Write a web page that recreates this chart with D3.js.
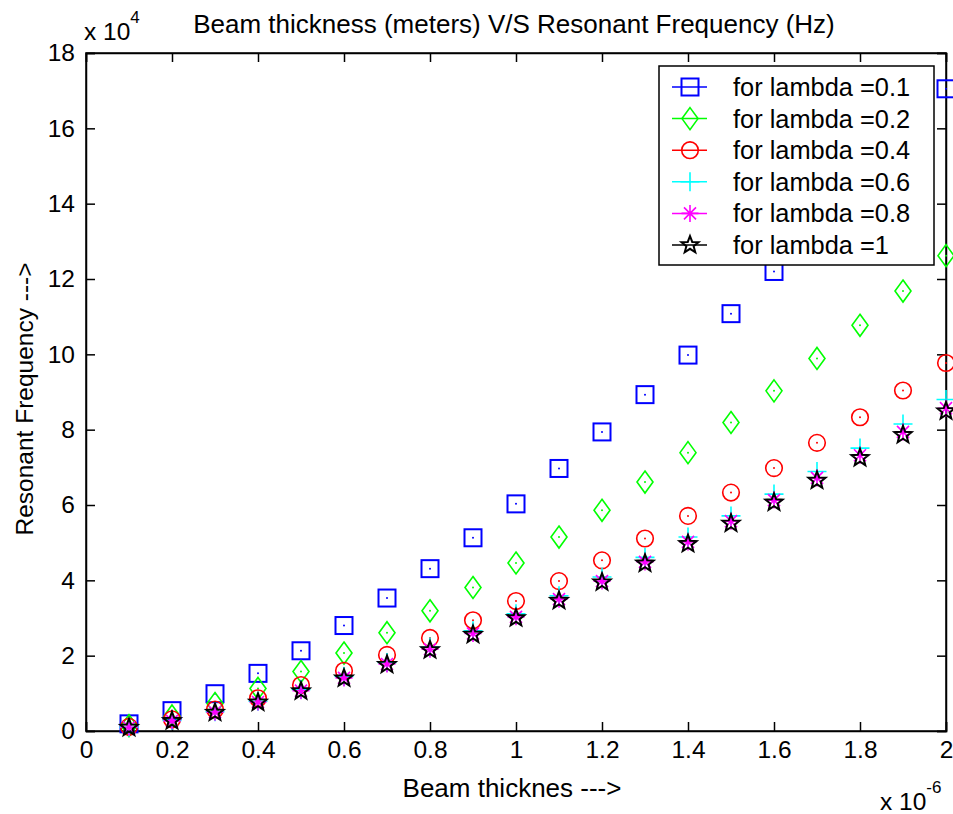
<!DOCTYPE html>
<html>
<head>
<meta charset="utf-8">
<script src="https://cdn.jsdelivr.net/npm/d3@7/dist/d3.min.js"></script>
<style>
  html, body { margin: 0; padding: 0; background: #fff; }
  svg text { font-family: "Liberation Sans", Arial, sans-serif; fill: #000; }
</style>
</head>
<body>
<svg id="chart" width="953" height="814"></svg>
<script>
// Beam thickness (x 10^-6 m)
const thickness = [0.1, 0.2, 0.3, 0.4, 0.5, 0.6, 0.7, 0.8, 0.9, 1.0, 1.1, 1.2, 1.3, 1.4, 1.5, 1.6, 1.7, 1.8, 1.9, 2.0];
// Resonant frequency (x 10^4 Hz)
const lambda01 = [0.19, 0.54, 0.99, 1.53, 2.13, 2.80, 3.53, 4.31, 5.13, 6.03, 6.97, 7.94, 8.93, 9.98, 11.08, 12.20, 13.37, 14.56, 15.79, 17.05];
const lambda02 = [0.14, 0.40, 0.73, 1.13, 1.58, 2.07, 2.61, 3.19, 3.81, 4.46, 5.15, 5.86, 6.61, 7.39, 8.19, 9.03, 9.89, 10.77, 11.68, 12.62];
const lambda04 = [0.11, 0.31, 0.57, 0.87, 1.22, 1.60, 2.02, 2.47, 2.94, 3.45, 3.98, 4.53, 5.11, 5.71, 6.33, 6.98, 7.65, 8.33, 9.04, 9.77];
const lambda06 = [0.10, 0.28, 0.51, 0.79, 1.10, 1.45, 1.82, 2.23, 2.66, 3.11, 3.59, 4.09, 4.61, 5.15, 5.71, 6.29, 6.89, 7.51, 8.15, 8.80];
const lambda08 = [0.10, 0.27, 0.50, 0.77, 1.07, 1.41, 1.78, 2.17, 2.59, 3.03, 3.50, 3.98, 4.49, 5.02, 5.57, 6.13, 6.72, 7.32, 7.94, 8.57];
const lambda10 = [0.09, 0.27, 0.49, 0.76, 1.06, 1.40, 1.76, 2.15, 2.56, 3.00, 3.46, 3.95, 4.45, 4.97, 5.51, 6.07, 6.65, 7.25, 7.86, 8.49];

const seriesNames = ["for lambda =0.1", "for lambda =0.2", "for lambda =0.4", "for lambda =0.6", "for lambda =0.8", "for lambda =1"];
const seriesValues = [lambda01, lambda02, lambda04, lambda06, lambda08, lambda10];
const seriesColors = ["#0000ff", "#00ff00", "#ff0000", "#00ffff", "#ff00ff", "#000000"];
const seriesMarkers = ["square", "diamond", "circle", "plus", "asterisk", "star"];

const xTicks = [0, 0.2, 0.4, 0.6, 0.8, 1, 1.2, 1.4, 1.6, 1.8, 2];
const yTicks = [0, 2, 4, 6, 8, 10, 12, 14, 16, 18];

const titleText = "Beam thickness (meters) V/S Resonant Frequency (Hz)";
const xLabelText = "Beam thicknes --->";
const yLabelText = "Resonant Frequency --->";

const FS_TICK = 24.5;
const FS_LABEL = 26;
const FS_LEGEND = 25.4;
const svg = d3.select("#chart");
const m = { left: 86, right: 946, top: 53, bottom: 731 };

const x = d3.scaleLinear().domain([0, 2]).range([m.left, m.right]);
const y = d3.scaleLinear().domain([0, 18]).range([m.bottom, m.top]);

// axes frame
svg.append("rect").attr("x", m.left).attr("y", m.top)
  .attr("width", m.right - m.left).attr("height", m.bottom - m.top)
  .attr("fill", "#fff").attr("stroke", "#000").attr("stroke-width", 1.5);

const TL = 9;
const xAxis = d3.axisBottom(x).tickValues(xTicks).tickSize(-TL).tickPadding(10)
  .tickFormat(d => d3.format("~g")(d));
const gx = svg.append("g").attr("transform", `translate(0,${m.bottom})`).call(xAxis);
const xTop = d3.axisTop(x).tickValues(xTicks).tickSize(-TL).tickFormat("");
const gxt = svg.append("g").attr("transform", `translate(0,${m.top})`).call(xTop);
const yAxis = d3.axisLeft(y).tickValues(yTicks).tickSize(-TL).tickPadding(11)
  .tickFormat(d => d3.format("~g")(d));
const gy = svg.append("g").attr("transform", `translate(${m.left},0)`).call(yAxis);
const yRight = d3.axisRight(y).tickValues(yTicks).tickSize(-TL).tickFormat("");
const gyr = svg.append("g").attr("transform", `translate(${m.right},0)`).call(yRight);
[gx, gxt, gy, gyr].forEach(g => {
  g.select(".domain").attr("stroke", "#000").attr("stroke-width", 1.5);
  g.selectAll(".tick line").attr("stroke", "#000").attr("stroke-width", 1.5);
  g.selectAll("text").attr("font-size", FS_TICK).attr("font-family", "Liberation Sans, Arial, sans-serif").attr("fill", "#000");
});

// markers
function drawMarker(g, type, color, cx, cy, dot) {
  const sw = 1.6;
  if (type === "square") {
    g.append("rect").attr("x", cx - 8.5).attr("y", cy - 8.5).attr("width", 17).attr("height", 17)
      .attr("fill", "none").attr("stroke", color).attr("stroke-width", 2);
  } else if (type === "diamond") {
    g.append("path").attr("d", `M${cx},${cy - 11}L${cx + 8},${cy}L${cx},${cy + 11}L${cx - 8},${cy}Z`)
      .attr("fill", "none").attr("stroke", color).attr("stroke-width", sw);
  } else if (type === "circle") {
    g.append("circle").attr("cx", cx).attr("cy", cy).attr("r", 8.3)
      .attr("fill", "none").attr("stroke", color).attr("stroke-width", sw);
  } else if (type === "plus") {
    g.append("path").attr("d", `M${cx - 9.5},${cy}H${cx + 9.5}M${cx},${cy - 9.5}V${cy + 9.5}`)
      .attr("stroke", color).attr("stroke-width", sw);
  } else if (type === "asterisk") {
    const r = 8.5, d = r * 0.707;
    g.append("path").attr("d", `M${cx - r},${cy}H${cx + r}M${cx},${cy - r}V${cy + r}M${cx - d},${cy - d}L${cx + d},${cy + d}M${cx - d},${cy + d}L${cx + d},${cy - d}`)
      .attr("stroke", color).attr("stroke-width", sw);
  } else if (type === "star") {
    const pts = [];
    for (let i = 0; i < 10; i++) {
      const a = -Math.PI / 2 + i * Math.PI / 5;
      const r = i % 2 === 0 ? 9 : 3.8;
      pts.push([cx + r * Math.cos(a), cy + r * Math.sin(a)]);
    }
    g.append("path").attr("d", "M" + pts.map(p => p.join(",")).join("L") + "Z")
      .attr("fill", "none").attr("stroke", color).attr("stroke-width", 2);
  }
  if (dot) {
    g.append("circle").attr("cx", cx).attr("cy", cy).attr("r", 1).attr("fill", color);
  }
}

const plotG = svg.append("g");
seriesValues.forEach((vals, si) => {
  const g = plotG.append("g");
  vals.forEach((v, i) => {
    drawMarker(g, seriesMarkers[si], seriesColors[si], x(thickness[i]), y(v), si < 3);
  });
});

// legend
const lg = svg.append("g");
const L = { x: 659, y: 66, w: 275, h: 199 };
lg.append("rect").attr("x", L.x).attr("y", L.y).attr("width", L.w).attr("height", L.h)
  .attr("fill", "#fff").attr("stroke", "#000").attr("stroke-width", 1.5);
seriesNames.forEach((name, i) => {
  const ry = 87 + i * 31.6;
  lg.append("line").attr("x1", 672).attr("x2", 707).attr("y1", ry).attr("y2", ry)
    .attr("stroke", seriesColors[i]).attr("stroke-width", 1.5);
  drawMarker(lg, seriesMarkers[i], seriesColors[i], 690, ry, false);
  lg.append("text").attr("x", 733).attr("y", ry + 9).attr("font-size", FS_LEGEND).text(name);
});

// title
svg.append("text").attr("x", 514).attr("y", 33).attr("text-anchor", "middle")
  .attr("font-size", FS_LABEL).text(titleText);
// x10^4
const e4 = svg.append("text").attr("x", 84).attr("y", 40).attr("font-size", FS_TICK);
e4.append("tspan").text("x 10");
e4.append("tspan").attr("dy", -17).attr("font-size", 17).text("4");
// x label
svg.append("text").attr("x", 512).attr("y", 797).attr("text-anchor", "middle")
  .attr("font-size", FS_LABEL).text(xLabelText);
// x10^-6
const e6 = svg.append("text").attr("x", 880).attr("y", 810).attr("font-size", FS_TICK);
e6.append("tspan").text("x 10");
e6.append("tspan").attr("dy", -17).attr("font-size", 17).text("-6");
// y label
svg.append("text").attr("transform", `translate(33,399) rotate(-90)`).attr("text-anchor", "middle")
  .attr("font-size", FS_TICK).text(yLabelText);
</script>
</body>
</html>
